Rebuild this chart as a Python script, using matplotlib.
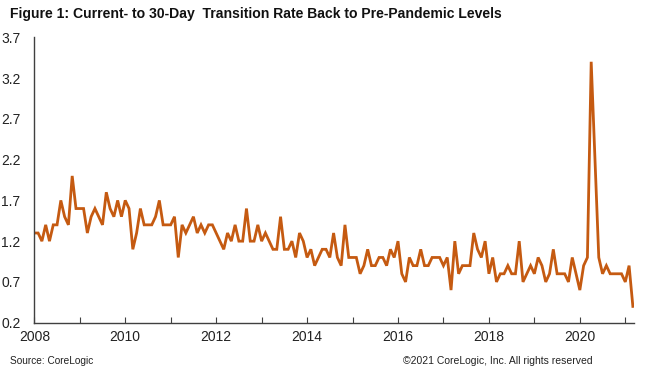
import matplotlib
matplotlib.use("Agg")
import matplotlib.pyplot as plt
import numpy as np

start_year = 2008
rate = [
    1.3, 1.3, 1.2, 1.4, 1.2, 1.4, 1.4, 1.7, 1.5, 1.4, 2.0, 1.6,   # 2008
    1.6, 1.6, 1.3, 1.5, 1.6, 1.5, 1.4, 1.8, 1.6, 1.5, 1.7, 1.5,   # 2009
    1.7, 1.6, 1.1, 1.3, 1.6, 1.4, 1.4, 1.4, 1.5, 1.7, 1.4, 1.4,   # 2010
    1.4, 1.5, 1.0, 1.4, 1.3, 1.4, 1.5, 1.3, 1.4, 1.3, 1.4, 1.4,   # 2011
    1.3, 1.2, 1.1, 1.3, 1.2, 1.4, 1.2, 1.2, 1.6, 1.2, 1.2, 1.4,   # 2012
    1.2, 1.3, 1.2, 1.1, 1.1, 1.5, 1.1, 1.1, 1.2, 1.0, 1.3, 1.2,   # 2013
    1.0, 1.1, 0.9, 1.0, 1.1, 1.1, 1.0, 1.3, 1.0, 0.9, 1.4, 1.0,   # 2014
    1.0, 1.0, 0.8, 0.9, 1.1, 0.9, 0.9, 1.0, 1.0, 0.9, 1.1, 1.0,   # 2015
    1.2, 0.8, 0.7, 1.0, 0.9, 0.9, 1.1, 0.9, 0.9, 1.0, 1.0, 1.0,   # 2016
    0.9, 1.0, 0.6, 1.2, 0.8, 0.9, 0.9, 0.9, 1.3, 1.1, 1.0, 1.2,   # 2017
    0.8, 1.0, 0.7, 0.8, 0.8, 0.9, 0.8, 0.8, 1.2, 0.7, 0.8, 0.9,   # 2018
    0.8, 1.0, 0.9, 0.7, 0.8, 1.1, 0.8, 0.8, 0.8, 0.7, 1.0, 0.8,   # 2019
    0.6, 0.9, 1.0, 3.4, 2.2, 1.0, 0.8, 0.9, 0.8, 0.8, 0.8, 0.8,   # 2020
    0.7, 0.9, 0.4,                                                # 2021
]
yticks = [0.2, 0.7, 1.2, 1.7, 2.2, 2.7, 3.2, 3.7]
xtick_years = list(range(2008, 2022))
title = "Figure 1: Current- to 30-Day  Transition Rate Back to Pre-Pandemic Levels"
source = "Source: CoreLogic"
copyright_txt = "\u00a92021 CoreLogic, Inc. All rights reserved"

plt.rcParams['font.family'] = ['Liberation Sans Narrow', 'Liberation Sans', 'DejaVu Sans']

x = start_year + np.arange(len(rate)) / 12.0

fig = plt.figure(figsize=(6.6, 3.78), dpi=100)
ax = fig.add_axes([0.052, 0.1463, 0.9085, 0.755])
ax.plot(x, rate, color='#C55A11', lw=2.0, solid_joinstyle='miter')

ax.set_xlim(2008, 2021.19)
ax.set_ylim(0.2, 3.7)
ax.set_yticks(yticks)
ax.set_yticklabels([f"{v:.1f}" for v in yticks])
ax.set_xticks(xtick_years)
ax.set_xticklabels([str(y) if y % 2 == 0 else "" for y in xtick_years])

for s in ['top', 'right']:
    ax.spines[s].set_visible(False)
for s in ['left', 'bottom']:
    ax.spines[s].set_color('#404040')
    ax.spines[s].set_linewidth(1.0)

ax.tick_params(axis='y', length=0, pad=10, labelsize=10, labelcolor='#222222')
ax.tick_params(axis='x', direction='in', length=4, width=0.8, color='#404040',
               pad=5, labelsize=10, labelcolor='#222222')

fig.text(0.015, 0.962, title, fontsize=10.1, fontweight='bold', ha='left', va='center',
         color='#111111')
fig.text(0.015, 0.045, source, fontsize=7.3, ha='left', va='center', color='#222222')
fig.text(0.61, 0.045, copyright_txt, fontsize=7.5, ha='left', va='center', color='#222222')

fig.savefig("out.png", dpi=100)
